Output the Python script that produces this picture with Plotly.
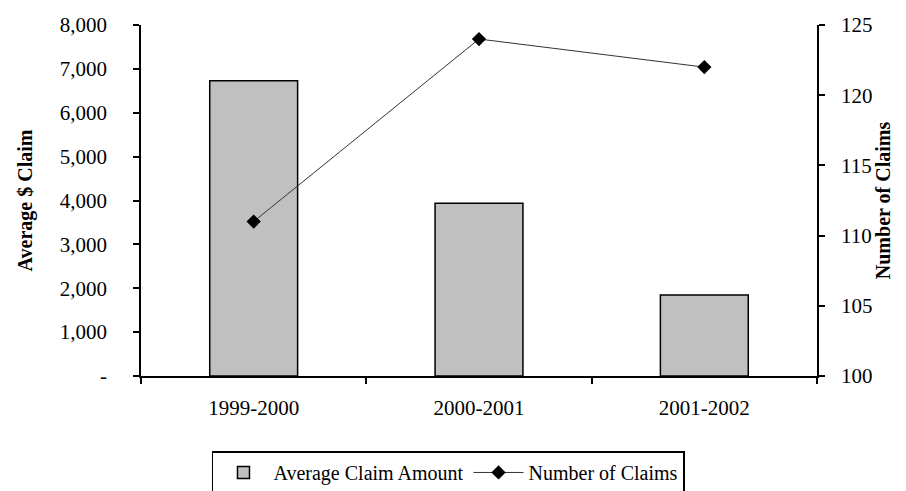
import plotly.graph_objects as go

categories = ["1999-2000", "2000-2001", "2001-2002"]
avg_claim = [6730, 3940, 1845]
num_claims = [111, 124, 122]
left_tickvals = [0, 1000, 2000, 3000, 4000, 5000, 6000, 7000, 8000]
left_ticktext = ["-", "1,000", "2,000", "3,000", "4,000", "5,000", "6,000", "7,000", "8,000"]
right_tickvals = [100, 105, 110, 115, 120, 125]

FONT = "Liberation Serif, Times New Roman, serif"

fig = go.Figure()
fig.add_trace(go.Bar(
    x=categories, y=avg_claim, name="Average Claim Amount",
    marker=dict(color="#c0c0c0", line=dict(color="black", width=1.5)),
    width=0.39, yaxis="y",
))
fig.add_trace(go.Scatter(
    x=categories, y=num_claims, name="Number of Claims", mode="lines+markers",
    line=dict(color="#333333", width=1),
    marker=dict(symbol="diamond", size=11, color="black"),
    yaxis="y2",
))

fig.update_layout(
    width=906, height=491,
    margin=dict(l=141, r=89, t=25, b=115, autoexpand=False),
    paper_bgcolor="white", plot_bgcolor="white",
    font=dict(family=FONT, size=20, color="black"),
    showlegend=True,
    legend=dict(
        orientation="h", x=0.105, xanchor="left", y=-0.215, yanchor="top",
        bordercolor="black", borderwidth=1.5, font=dict(size=20, family=FONT),
        itemwidth=50, tracegroupgap=0,
    ),
    xaxis=dict(
        type="category", showline=True, linecolor="black", linewidth=1.5,
        ticks="outside", ticklen=6, tickcolor="black", tickwidth=1.5, tickson="boundaries",
        showgrid=False, zeroline=False, tickfont=dict(size=21),
        ticklabelstandoff=12, automargin=False,
        range=[-0.5, 2.5],
    ),
    yaxis=dict(
        range=[0, 8000], tickvals=left_tickvals, ticktext=left_ticktext,
        showline=True, linecolor="black", linewidth=1.5,
        ticks="outside", ticklen=6, tickcolor="black", tickwidth=1.5,
        showgrid=False, zeroline=False, tickfont=dict(size=21),
        ticklabelstandoff=22, automargin=False,
        title=dict(text="<b>Average $ Claim</b>", font=dict(size=20), standoff=22),
    ),
    yaxis2=dict(
        range=[100, 125], tickvals=right_tickvals, overlaying="y", side="right",
        showline=True, linecolor="black", linewidth=1.5,
        ticks="outside", ticklen=6, tickcolor="black", tickwidth=1.5,
        showgrid=False, zeroline=False, tickfont=dict(size=21),
        ticklabelstandoff=12, automargin=False,
        title=dict(text="<b>Number of Claims</b>", font=dict(size=20), standoff=2),
    ),
    yaxis3=dict(
        range=[0, 8000], tickvals=left_tickvals, overlaying="y", side="left",
        showline=False, ticks="inside", ticklen=6, tickcolor="black", tickwidth=1.5,
        showticklabels=False, showgrid=False, zeroline=False, automargin=False,
    ),
    yaxis4=dict(
        range=[100, 125], tickvals=right_tickvals, overlaying="y", side="right",
        showline=False, ticks="inside", ticklen=6, tickcolor="black", tickwidth=1.5,
        showticklabels=False, showgrid=False, zeroline=False, automargin=False,
    ),
)

fig.write_html("out.html")
